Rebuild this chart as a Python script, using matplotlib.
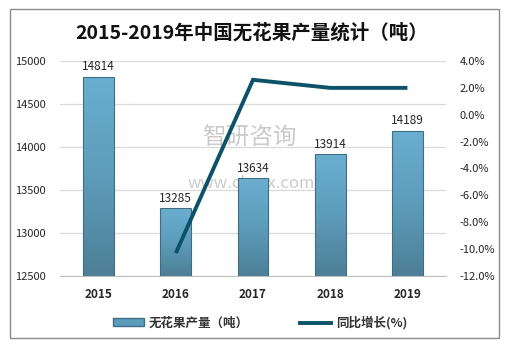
import numpy as np
import matplotlib.pyplot as plt
from matplotlib.patches import Rectangle
from matplotlib.lines import Line2D
from matplotlib.ticker import FuncFormatter
from matplotlib.colors import LinearSegmentedColormap

plt.rcParams['font.family'] = ['Noto Sans CJK SC', 'DejaVu Sans']

years = ['2015', '2016', '2017', '2018', '2019']
output = [14814, 13285, 13634, 13914, 14189]   # 产量（吨）
growth = [None, -10.3, 2.6, 2.0, 2.0]          # 同比增长 %

fig = plt.figure(figsize=(5.10, 3.48), dpi=100)
fig.patch.set_facecolor('white')

# outer frame
fig.add_artist(Rectangle((10/510, 1 - 338/348), 489/510, 329/348,
                         transform=fig.transFigure, fill=False,
                         edgecolor='#8c8c8c', linewidth=1.0))

ax = fig.add_axes([60/510, 1 - 276/348, 386/510, 215/348])
x = np.arange(len(years))
bw = 0.4

# watermark sits behind the marks
ax.text(0.49, 0.64, '智研咨询', transform=ax.transAxes, fontsize=17,
        color='#a0a0a0', alpha=0.55, ha='center', va='center', zorder=1)
ax.text(0.495, 0.43, 'www.chyxx.com', transform=ax.transAxes, fontsize=12,
        color='#a0a0a0', alpha=0.55, ha='center', va='center', zorder=1)

# bars with a vertical gradient
grad = np.linspace(0, 1, 256).reshape(-1, 1)
cmap = LinearSegmentedColormap.from_list('barg', ['#4d7f96', '#5d9cbb', '#6aaed0'])
for xi, v in zip(x, output):
    rect = Rectangle((xi - bw/2, 12500), bw, v - 12500, facecolor='none',
                     edgecolor='#3f6e84', linewidth=0.8, zorder=3)
    ax.add_patch(rect)
    im = ax.imshow(grad, cmap=cmap, aspect='auto', origin='lower',
                   extent=(xi - bw/2, xi + bw/2, 12500, v), zorder=2)
    im.set_clip_path(rect)
    ax.text(xi, v + 45, str(v), ha='center', va='bottom', fontsize=8.5,
            color='#262626', zorder=5)

ax.set_xlim(-0.5, len(years) - 0.5)
ax.set_ylim(12500, 15000)
ax.set_yticks(np.arange(12500, 15001, 500))
ax.set_xticks(x)
ax.set_xticklabels(years, fontsize=8.5, fontweight='bold', color='#262626')
ax.tick_params(axis='y', labelsize=8, colors='#262626', length=0, pad=10)
ax.tick_params(axis='x', length=0, pad=9)
ax.grid(axis='y', color='#d9d9d9', linewidth=0.9, zorder=0)
ax.set_axisbelow(True)
for s in ['top', 'right', 'left']:
    ax.spines[s].set_visible(False)
ax.spines['bottom'].set_color('#bfbfbf')

ax2 = ax.twinx()
gx = [xi for xi, g in zip(x, growth) if g is not None]
gy = [g for g in growth if g is not None]
ax2.plot(gx, gy, color='#0e5269', linewidth=2.8, solid_capstyle='butt',
         solid_joinstyle='miter', zorder=6)
ax2.set_ylim(-12, 4)
ax2.set_yticks(np.arange(-12, 4.1, 2))
ax2.yaxis.set_major_formatter(FuncFormatter(lambda v, p: '%.1f%%' % v))
ax2.tick_params(axis='y', labelsize=8, colors='#262626', length=0, pad=10)
for s in ['top', 'right', 'left', 'bottom']:
    ax2.spines[s].set_visible(False)

fig.suptitle('2015-2019年中国无花果产量统计（吨）', x=252/510, y=1 - 33/348,
             fontsize=14, fontweight='semibold', color='#111111', va='center')

# legend, one entry each so they can be placed independently
leg_kw = dict(loc='center left', frameon=False, handlelength=2.5,
              handleheight=0.6, handletextpad=0.35, labelcolor='#333333',
              prop={'size': 9, 'weight': 'bold'}, borderaxespad=0, borderpad=0)
leg1 = fig.legend([Rectangle((0, 0), 1, 1, facecolor='#5d9cbb', edgecolor='#3f6e84')],
                  ['无花果产量（吨）'], bbox_to_anchor=(113/510, 1 - 323/348), **leg_kw)
leg2 = fig.legend([Line2D([0], [0], color='#0e5269', linewidth=2.8)],
                  ['同比增长(%)'], bbox_to_anchor=(300/510, 1 - 323/348), **leg_kw)

fig.savefig('out.png', dpi=100)
